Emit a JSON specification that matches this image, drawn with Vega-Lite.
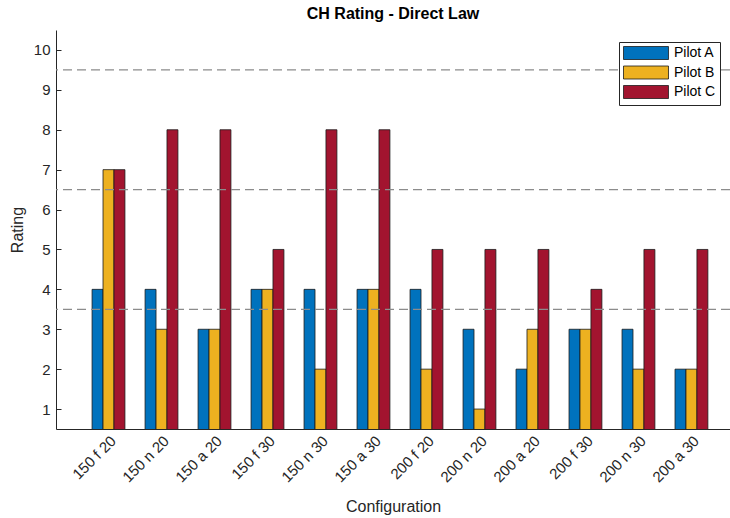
{
  "$schema": "https://vega.github.io/schema/vega-lite/v6.json",
  "autosize": "none",
  "padding": {"left": 56, "top": 30, "right": 0, "bottom": 89},
  "width": 674,
  "height": 399,
  "background": "white",
  "config": {
    "font": "Liberation Sans",
    "view": {"stroke": null}
  },
  "title": {
    "text": "CH Rating - Direct Law",
    "fontSize": 16,
    "fontWeight": "bold",
    "color": "#000000",
    "offset": 8,
    "anchor": "middle"
  },
  "datasets": {
    "ratings": [
      {"config": "150 f 20", "pilot": "Pilot A", "rating": 4},
      {"config": "150 f 20", "pilot": "Pilot B", "rating": 7},
      {"config": "150 f 20", "pilot": "Pilot C", "rating": 7},
      {"config": "150 n 20", "pilot": "Pilot A", "rating": 4},
      {"config": "150 n 20", "pilot": "Pilot B", "rating": 3},
      {"config": "150 n 20", "pilot": "Pilot C", "rating": 8},
      {"config": "150 a 20", "pilot": "Pilot A", "rating": 3},
      {"config": "150 a 20", "pilot": "Pilot B", "rating": 3},
      {"config": "150 a 20", "pilot": "Pilot C", "rating": 8},
      {"config": "150 f 30", "pilot": "Pilot A", "rating": 4},
      {"config": "150 f 30", "pilot": "Pilot B", "rating": 4},
      {"config": "150 f 30", "pilot": "Pilot C", "rating": 5},
      {"config": "150 n 30", "pilot": "Pilot A", "rating": 4},
      {"config": "150 n 30", "pilot": "Pilot B", "rating": 2},
      {"config": "150 n 30", "pilot": "Pilot C", "rating": 8},
      {"config": "150 a 30", "pilot": "Pilot A", "rating": 4},
      {"config": "150 a 30", "pilot": "Pilot B", "rating": 4},
      {"config": "150 a 30", "pilot": "Pilot C", "rating": 8},
      {"config": "200 f 20", "pilot": "Pilot A", "rating": 4},
      {"config": "200 f 20", "pilot": "Pilot B", "rating": 2},
      {"config": "200 f 20", "pilot": "Pilot C", "rating": 5},
      {"config": "200 n 20", "pilot": "Pilot A", "rating": 3},
      {"config": "200 n 20", "pilot": "Pilot B", "rating": 1},
      {"config": "200 n 20", "pilot": "Pilot C", "rating": 5},
      {"config": "200 a 20", "pilot": "Pilot A", "rating": 2},
      {"config": "200 a 20", "pilot": "Pilot B", "rating": 3},
      {"config": "200 a 20", "pilot": "Pilot C", "rating": 5},
      {"config": "200 f 30", "pilot": "Pilot A", "rating": 3},
      {"config": "200 f 30", "pilot": "Pilot B", "rating": 3},
      {"config": "200 f 30", "pilot": "Pilot C", "rating": 4},
      {"config": "200 n 30", "pilot": "Pilot A", "rating": 3},
      {"config": "200 n 30", "pilot": "Pilot B", "rating": 2},
      {"config": "200 n 30", "pilot": "Pilot C", "rating": 5},
      {"config": "200 a 30", "pilot": "Pilot A", "rating": 2},
      {"config": "200 a 30", "pilot": "Pilot B", "rating": 2},
      {"config": "200 a 30", "pilot": "Pilot C", "rating": 5}
    ],
    "thresholds": [
      {"level": 3.5},
      {"level": 6.5},
      {"level": 9.5}
    ]
  },
  "layer": [
    {
      "data": {"name": "ratings"},
      "mark": {"type": "bar", "clip": true, "stroke": "#1a1a1a", "strokeWidth": 0.8},
      "encoding": {
        "x": {
          "field": "config",
          "type": "nominal",
          "sort": ["150 f 20", "150 n 20", "150 a 20", "150 f 30", "150 n 30", "150 a 30", "200 f 20", "200 n 20", "200 a 20", "200 f 30", "200 n 30", "200 a 30"],
          "scale": {"paddingInner": 0.38, "paddingOuter": 0.549, "align": 0.62},
          "axis": {
            "title": "Configuration",
            "titleFontSize": 16,
            "titleFontWeight": "normal",
            "titleColor": "#262626",
            "titleBaseline": "middle",
            "titleY": 77,
            "labelAngle": -45,
            "labelFontSize": 15,
            "labelColor": "#262626",
            "labelPadding": 4,
            "ticks": false,
            "domainColor": "#262626",
            "grid": false
          }
        },
        "xOffset": {
          "field": "pilot",
          "type": "nominal",
          "scale": {"paddingInner": 0, "paddingOuter": 0}
        },
        "y": {
          "field": "rating",
          "type": "quantitative",
          "scale": {"domain": [0.5, 10.5], "nice": false, "zero": false},
          "axis": {
            "title": "Rating",
            "titleFontSize": 16,
            "titleFontWeight": "normal",
            "titleColor": "#262626",
            "titlePadding": 8,
            "values": [1, 2, 3, 4, 5, 6, 7, 8, 9, 10],
            "labelFontSize": 15,
            "labelColor": "#262626",
            "tickSize": -5,
            "tickColor": "#262626",
            "labelPadding": 11,
            "domainColor": "#262626",
            "grid": false
          }
        },
        "y2": {"datum": 0},
        "color": {
          "field": "pilot",
          "type": "nominal",
          "scale": {"domain": ["Pilot A", "Pilot B", "Pilot C"], "range": ["#0072BD", "#EDB120", "#A2142F"]},
          "legend": {
            "title": null,
            "orient": "none",
            "legendX": 563,
            "legendY": 12,
            "fillColor": "white",
            "strokeColor": "#262626",
            "padding": 4,
            "labelFontSize": 14,
            "labelColor": "#000000",
            "labelOffset": 21,
            "symbolType": "M-3.46,-1H3.46V1H-3.46Z",
            "symbolSize": 169,
            "symbolOffset": 16,
            "symbolStrokeColor": "#1a1a1a",
            "symbolStrokeWidth": 0.8,
            "symbolOpacity": 1,
            "rowPadding": 1.5
          }
        }
      }
    },
    {
      "data": {"name": "thresholds"},
      "mark": {"type": "rule", "color": "#8c8c8c", "strokeWidth": 1.2, "strokeDash": [9, 5]},
      "encoding": {
        "y": {"field": "level", "type": "quantitative"}
      }
    }
  ]
}
